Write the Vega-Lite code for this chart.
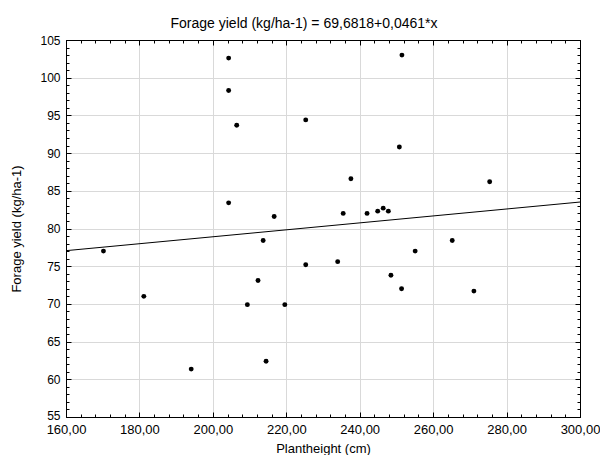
{
  "$schema": "https://vega.github.io/schema/vega-lite/v6.json",
  "width": 514,
  "height": 377,
  "autosize": {"type": "none"},
  "padding": {"left": 66, "top": 40, "right": 20, "bottom": 38},
  "background": "white",
  "title": {"text": "Forage yield (kg/ha-1) = 69,6818+0,0461*x", "font": "Liberation Sans", "fontSize": 14, "fontWeight": "normal", "color": "black", "offset": 3, "dx": -19},
  "config": {
    "view": {"stroke": "black", "strokeWidth": 1},
    "axis": {"domainColor": "black", "tickColor": "black", "labelFont": "Liberation Sans", "titleFont": "Liberation Sans", "labelColor": "black", "titleColor": "black", "titleFontWeight": "normal", "gridColor": "#d9d9d9", "tickWidth": 1}
  },
  "layer": [
    {
      "data": {"values": [
        {"height": 204.3, "yield": 102.6},
        {"height": 204.3, "yield": 98.3},
        {"height": 206.5, "yield": 93.7},
        {"height": 225.3, "yield": 94.4},
        {"height": 204.3, "yield": 83.4},
        {"height": 216.7, "yield": 81.6},
        {"height": 251.5, "yield": 103.0},
        {"height": 250.8, "yield": 90.8},
        {"height": 237.6, "yield": 86.6},
        {"height": 275.4, "yield": 86.2},
        {"height": 235.5, "yield": 82.0},
        {"height": 242.0, "yield": 82.0},
        {"height": 244.9, "yield": 82.3},
        {"height": 246.4, "yield": 82.7},
        {"height": 247.8, "yield": 82.3},
        {"height": 170.2, "yield": 77.0},
        {"height": 213.7, "yield": 78.4},
        {"height": 225.3, "yield": 75.2},
        {"height": 212.3, "yield": 73.1},
        {"height": 181.2, "yield": 71.0},
        {"height": 209.4, "yield": 69.9},
        {"height": 219.6, "yield": 69.9},
        {"height": 214.5, "yield": 62.4},
        {"height": 194.1, "yield": 61.35},
        {"height": 265.2, "yield": 78.4},
        {"height": 255.1, "yield": 77.0},
        {"height": 234.0, "yield": 75.6},
        {"height": 248.5, "yield": 73.8},
        {"height": 251.4, "yield": 72.0},
        {"height": 271.1, "yield": 71.7}
      ]},
      "mark": {"type": "circle", "size": 24, "color": "black", "opacity": 1},
      "encoding": {
        "x": {"field": "height", "type": "quantitative",
          "scale": {"domain": [160, 300], "nice": false, "zero": false},
          "axis": {"orient": "bottom", "title": "Plantheight (cm)", "titleFontSize": 13, "titlePadding": 4,
            "values": [160,164,168,172,176,180,184,188,192,196,200,204,208,212,216,220,224,228,232,236,240,244,248,252,256,260,264,268,272,276,280,284,288,292,296,300],
            "labelExpr": "datum.value % 20 === 0 ? replace(format(datum.value, '.2f'), '.', ',') : ''",
            "labelFontSize": 13, "labelPadding": 11, "labelFlush": false, "labelOverlap": false,
            "grid": true,
            "gridOpacity": {"condition": {"test": "datum.value % 20 === 0 && datum.value > 160 && datum.value < 300", "value": 1}, "value": 0},
            "tickSize": {"condition": {"test": "datum.value % 20 === 0", "value": -5}, "value": -3}}
        },
        "y": {"field": "yield", "type": "quantitative",
          "scale": {"domain": [55, 105], "nice": false, "zero": false},
          "axis": {"orient": "left", "title": "Forage yield (kg/ha-1)", "titleFontSize": 13, "titlePadding": 16,
            "values": [55,56,57,58,59,60,61,62,63,64,65,66,67,68,69,70,71,72,73,74,75,76,77,78,79,80,81,82,83,84,85,86,87,88,89,90,91,92,93,94,95,96,97,98,99,100,101,102,103,104,105],
            "labelExpr": "datum.value % 5 === 0 ? format(datum.value, 'd') : ''",
            "labelFontSize": 12, "labelPadding": 11, "labelFlush": false, "labelOverlap": false,
            "labelOffset": {"condition": {"test": "datum.value === 55", "value": -2}, "value": 0},
            "grid": true,
            "gridOpacity": {"condition": {"test": "datum.value % 5 === 0 && datum.value > 55 && datum.value < 105", "value": 1}, "value": 0},
            "tickSize": {"condition": {"test": "datum.value % 5 === 0", "value": -5}, "value": -3}}
        }
      }
    },
    {
      "data": {"values": [
        {"height": 160, "yield": 77.06},
        {"height": 300, "yield": 83.51}
      ]},
      "mark": {"type": "line", "color": "black", "strokeWidth": 1},
      "encoding": {
        "x": {"field": "height", "type": "quantitative",
          "axis": {"orient": "top", "title": null, "labels": false, "grid": false,
            "values": [160,164,168,172,176,180,184,188,192,196,200,204,208,212,216,220,224,228,232,236,240,244,248,252,256,260,264,268,272,276,280,284,288,292,296,300],
            "tickSize": {"condition": {"test": "datum.value % 20 === 0", "value": -5}, "value": -3}}
        },
        "y": {"field": "yield", "type": "quantitative",
          "axis": {"orient": "right", "title": null, "labels": false, "grid": false,
            "values": [55,56,57,58,59,60,61,62,63,64,65,66,67,68,69,70,71,72,73,74,75,76,77,78,79,80,81,82,83,84,85,86,87,88,89,90,91,92,93,94,95,96,97,98,99,100,101,102,103,104,105],
            "tickSize": {"condition": {"test": "datum.value % 5 === 0", "value": -5}, "value": -3}}
        }
      }
    }
  ],
  "resolve": {"axis": {"x": "independent", "y": "independent"}}
}
